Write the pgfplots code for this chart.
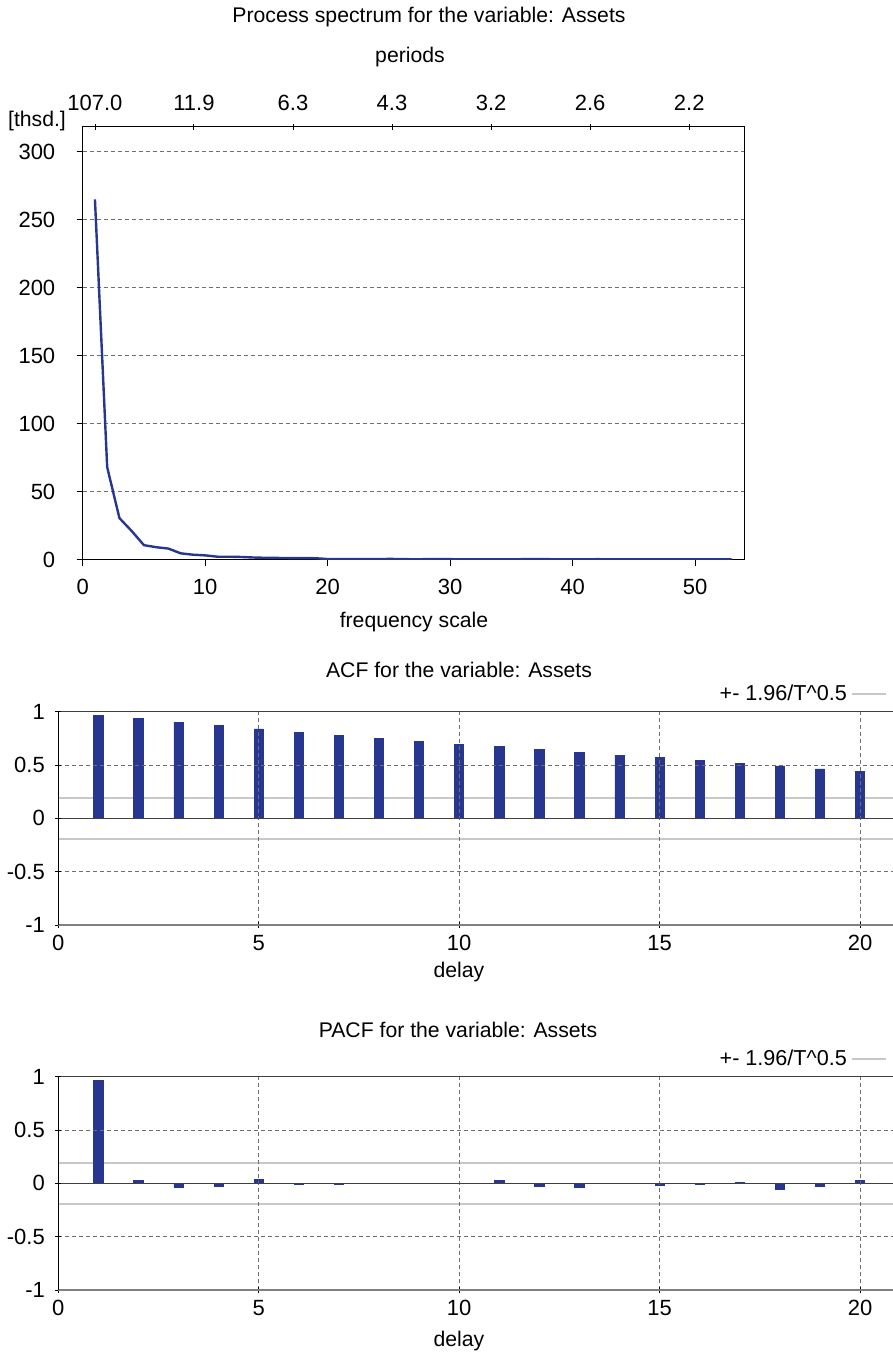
\documentclass[border=0pt]{standalone}
\usepackage{pgfplots}
\pgfplotsset{compat=1.18}
\usepackage{fontspec}
\setmainfont{Liberation Sans}

\definecolor{barblue}{RGB}{39,54,143}
\definecolor{gridgray}{RGB}{110,110,110}
\definecolor{cigray}{RGB}{200,200,200}

\pgfplotsset{
  every axis/.append style={
    scale only axis,
    anchor=north west,
    tick align=outside,
    major tick length=3pt,
    tick style={black, line width=0.4pt},
    /pgf/number format/assume math mode=true,
    tick label style={font=\fontsize{11}{12}\selectfont},
  },
  corrstyle/.style={
    width=417.35pt, height=106.65pt,
    xmin=0, xmax=20.82, ymin=-1, ymax=1,
    axis x line=bottom, axis y line=left,
    x axis line style={-, draw=gray, line width=0.9pt},
    y axis line style={-, draw=black, line width=0.5pt},
    xtick={0,5,10,15,20},
    ytick={-1,-0.5,0.5},
    extra y ticks={0,1},
    extra y tick style={grid=major, major grid style={solid, black!75, line width=0.6pt}},
    xmajorgrids, ymajorgrids,
    major grid style={gridgray, line width=0.5pt, dash pattern=on 2pt off 1.5pt},
    yticklabel style={xshift=-1.5pt},
    axis on top,
    legend plot pos=right,
    legend cell align=right,
    legend style={at={(1,1)}, anchor=south east, draw=none, fill=none,
      font=\fontsize{10.8}{12}\selectfont},
  },
}

\begin{document}
\fontsize{10.6}{12.6}\selectfont
\begin{tikzpicture}
\useasboundingbox (0,0) rectangle (446.5pt,-678.5pt);

% process spectrum
\begin{axis}[
  at={(41.35pt,-63.35pt)},
  width=330.65pt, height=216.5pt,
  xmin=0, xmax=54, ymin=0, ymax=318.4,
  xtick={0,10,20,30,40,50},
  ytick={0,50,100,150,200,250,300},
  xtick pos=left, ytick pos=left,
  ymajorgrids,
  major grid style={gridgray, line width=0.5pt, dash pattern=on 2pt off 1.5pt},
  xticklabel style={yshift=-3pt},
  yticklabel style={xshift=-7pt},
]
\addplot[barblue, line width=1.2pt] coordinates {
  (1,265) (2,68) (3,30.6) (4,21.1) (5,10.7) (6,9.2) (7,8.2) (8,4.7) (9,3.7) (10,3.2)
  (11,2.2) (12,2.2) (13,2.0) (14,1.6) (15,1.4) (16,1.3) (17,1.2) (18,1.2) (19,1.1) (20,0.5)
  (21,0.5) (22,0.4) (23,0.5) (24,0.4) (25,0.6) (26,0.5) (27,0.3) (28,0.4) (29,0.4) (30,0.4)
  (31,0.3) (32,0.3) (33,0.2) (34,0.2) (35,0.3) (36,0.4) (37,0.5) (38,0.4) (39,0.3) (40,0.2)
  (41,0.2) (42,0.4) (43,0.3) (44,0.3) (45,0.2) (46,0.2) (47,0.2) (48,0.3) (49,0.3) (50,0.2)
  (51,0.2) (52,0.2) (53,0.2)
};
\end{axis}

% periods axis on top
\begin{axis}[
  at={(41.35pt,-63.35pt)},
  width=330.65pt, height=216.5pt,
  xmin=0, xmax=54, ymin=0, ymax=1,
  axis x line=top, axis y line=none,
  x axis line style={-},
  xtick={1,9.08,17.17,25.26,33.35,41.44,49.53},
  xticklabels={107.0,11.9,6.3,4.3,3.2,2.6,2.2},
  xticklabel style={yshift=3pt},
]
\end{axis}

\node at (214.5pt,-8.5pt) {Process spectrum for the variable: Assets};
\node at (205pt,-28.5pt) {periods};
\node at (18.5pt,-60.5pt) {[thsd.]};
\node at (207pt,-311pt) {frequency scale};

% ACF
\node at (229.5pt,-335pt) {ACF for the variable: Assets};
\begin{axis}[corrstyle, at={(29.15pt,-355.85pt)}]
\addplot[cigray, line width=0.8pt] coordinates {(0,0.193) (20.82,0.193)};
\addlegendentry{+- 1.96/T\^{}0.5}
\addplot[cigray, line width=0.8pt, forget plot] coordinates {(0,-0.193) (20.82,-0.193)};
\addplot[ybar, bar width=4.6pt, fill=barblue, draw=barblue, forget plot] coordinates {
  (1,0.966) (2,0.937) (3,0.903) (4,0.869) (5,0.838) (6,0.809) (7,0.778) (8,0.750)
  (9,0.722) (10,0.694) (11,0.672) (12,0.647) (13,0.619) (14,0.594) (15,0.569)
  (16,0.544) (17,0.516) (18,0.491) (19,0.463) (20,0.438)
};
\end{axis}
\node at (229.5pt,-486pt) {delay};

% PACF
\node at (229pt,-515pt) {PACF for the variable: Assets};
\begin{axis}[corrstyle, at={(29.15pt,-538.35pt)}]
\addplot[cigray, line width=0.8pt] coordinates {(0,0.193) (20.82,0.193)};
\addlegendentry{+- 1.96/T\^{}0.5}
\addplot[cigray, line width=0.8pt, forget plot] coordinates {(0,-0.193) (20.82,-0.193)};
\addplot[ybar, bar width=4.6pt, fill=barblue, draw=barblue, forget plot] coordinates {
  (1,0.966) (2,0.025) (3,-0.037) (4,-0.031) (5,0.034) (6,-0.012) (7,-0.005) (8,-0.003)
  (9,-0.002) (10,0.001) (11,0.025) (12,-0.031) (13,-0.037) (14,0.0) (15,-0.019)
  (16,-0.009) (17,0.008) (18,-0.056) (19,-0.028) (20,0.025)
};
\end{axis}
\node at (229.5pt,-670.5pt) {delay};

\end{tikzpicture}
\end{document}
